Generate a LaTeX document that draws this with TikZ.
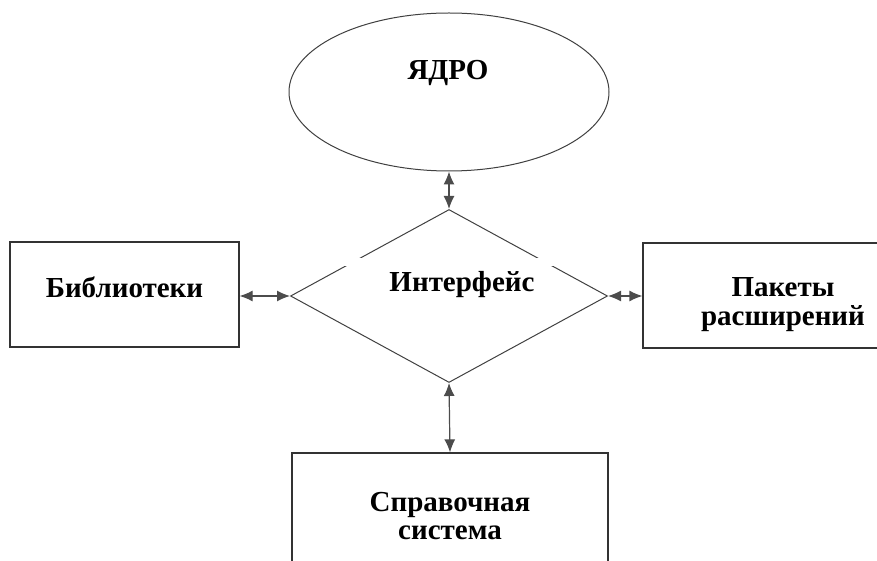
\documentclass[tikz,border=0pt]{standalone}
\usepackage{fontspec}
\setmainfont{Liberation Serif}
\usetikzlibrary{shapes.geometric,arrows.meta}

\tikzset{
    label font/.style={font=\bfseries\fontsize{29}{28}\selectfont},
    block/.style={draw=black!80, line width=1.2pt, rectangle, inner sep=0pt, align=center, label font},
    kernelshape/.style={draw=black!75, line width=1pt, ellipse, inner sep=0pt, minimum width=320pt, minimum height=158pt},
    ifaceshape/.style={draw=black!75, line width=1pt, diamond, inner sep=0pt, minimum width=317pt, minimum height=173pt},
    link/.style={draw=black!70, line width=1.2pt, {Latex[length=13pt,width=11pt]}-{Latex[length=13pt,width=11pt]}}
}

\begin{document}
\begin{tikzpicture}[x=1pt, y=-1pt]
        \useasboundingbox (0,0) rectangle (877,561);
        \clip (0,0) rectangle (877,561);

        % Kernel
        \node[kernelshape] (kernel) at (449,92) {};
        \node[label font] (kerneltext) at (448,73) {ЯДРО};

        % Interface
        \node[ifaceshape] (iface) at (449,296) {};
        \fill[white] (340,258) rectangle (560,266);
        \node[label font] (ifacetext) at (462,285) {Интерфейс};

        % Outer blocks
        \node[block, minimum width=229pt, minimum height=105pt] (lib) at (124.5,294.5)
            {\raisebox{7pt}[\height][\depth]{Библиотеки}};
        \node[block, minimum width=280pt, minimum height=105pt] (pack) at (783,295.5)
            {\raisebox{-10pt}[\height][\depth]{\begin{tabular}{@{}c@{}}Пакеты\\расширений\end{tabular}}};
        \node[block, minimum width=316pt, minimum height=126pt] (ref) at (450,516) {Справочная\\система};

        % Connections
        \draw[link] (iface.north) -- (kernel.south);
        \draw[link] (iface.west -| lib.east) -- (iface.west);
        \draw[link] (iface.east) -- (iface.east -| pack.west);
        \draw[link] (iface.south) -- (ref.north);

    \end{tikzpicture}
\end{document}
